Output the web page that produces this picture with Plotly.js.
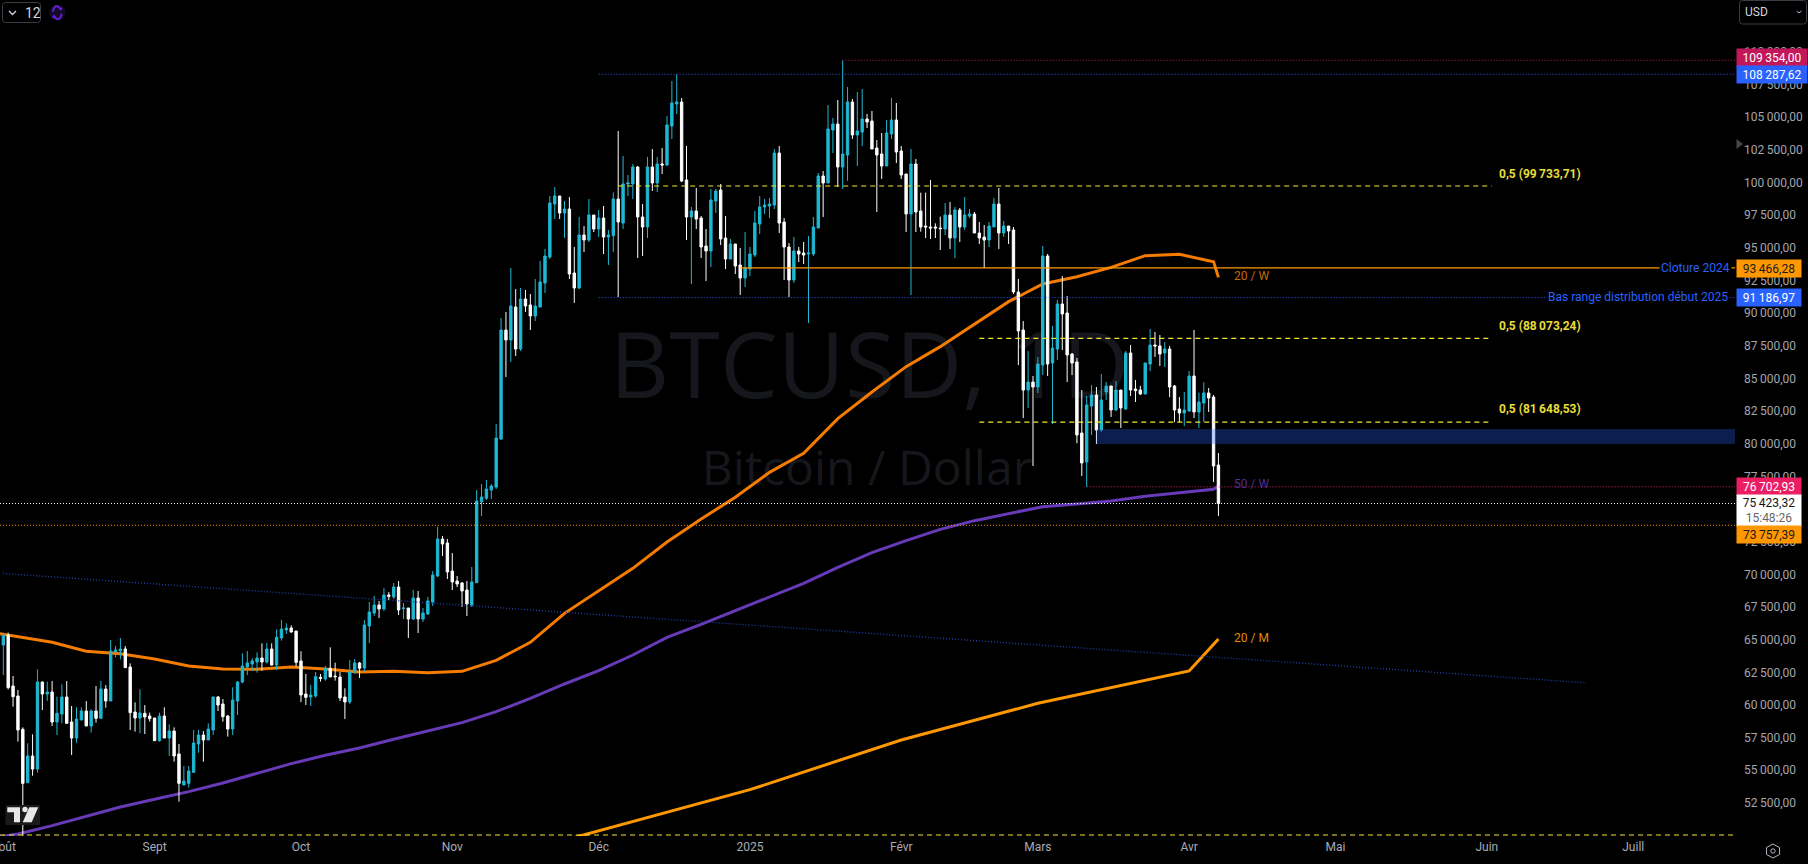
<!DOCTYPE html>
<html><head><meta charset="utf-8">
<script src="https://cdn.plot.ly/plotly-3.0.1.min.js"></script>
<style>html,body{margin:0;padding:0;background:#000;overflow:hidden}#c{width:1808px;height:864px}</style>
</head><body><div id="c"></div>
<script>
const dates=[
"2024-08-01","2024-08-02","2024-08-03","2024-08-04","2024-08-05","2024-08-06","2024-08-07","2024-08-08","2024-08-09","2024-08-10","2024-08-11","2024-08-12","2024-08-13","2024-08-14","2024-08-15","2024-08-16","2024-08-17","2024-08-18","2024-08-19","2024-08-20","2024-08-21","2024-08-22","2024-08-23","2024-08-24","2024-08-25","2024-08-26","2024-08-27","2024-08-28","2024-08-29","2024-08-30","2024-08-31",
"2024-09-01","2024-09-02","2024-09-03","2024-09-04","2024-09-05","2024-09-06","2024-09-07","2024-09-08","2024-09-09","2024-09-10","2024-09-11","2024-09-12","2024-09-13","2024-09-14","2024-09-15","2024-09-16","2024-09-17","2024-09-18","2024-09-19","2024-09-20","2024-09-21","2024-09-22","2024-09-23","2024-09-24","2024-09-25","2024-09-26","2024-09-27","2024-09-28","2024-09-29","2024-09-30",
"2024-10-01","2024-10-02","2024-10-03","2024-10-04","2024-10-05","2024-10-06","2024-10-07","2024-10-08","2024-10-09","2024-10-10","2024-10-11","2024-10-12","2024-10-13","2024-10-14","2024-10-15","2024-10-16","2024-10-17","2024-10-18","2024-10-19","2024-10-20","2024-10-21","2024-10-22","2024-10-23","2024-10-24","2024-10-25","2024-10-26","2024-10-27","2024-10-28","2024-10-29","2024-10-30","2024-10-31",
"2024-11-01","2024-11-02","2024-11-03","2024-11-04","2024-11-05","2024-11-06","2024-11-07","2024-11-08","2024-11-09","2024-11-10","2024-11-11","2024-11-12","2024-11-13","2024-11-14","2024-11-15","2024-11-16","2024-11-17","2024-11-18","2024-11-19","2024-11-20","2024-11-21","2024-11-22","2024-11-23","2024-11-24","2024-11-25","2024-11-26","2024-11-27","2024-11-28","2024-11-29","2024-11-30",
"2024-12-01","2024-12-02","2024-12-03","2024-12-04","2024-12-05","2024-12-06","2024-12-07","2024-12-08","2024-12-09","2024-12-10","2024-12-11","2024-12-12","2024-12-13","2024-12-14","2024-12-15","2024-12-16","2024-12-17","2024-12-18","2024-12-19","2024-12-20","2024-12-21","2024-12-22","2024-12-23","2024-12-24","2024-12-25","2024-12-26","2024-12-27","2024-12-28","2024-12-29","2024-12-30","2024-12-31",
"2025-01-01","2025-01-02","2025-01-03","2025-01-04","2025-01-05","2025-01-06","2025-01-07","2025-01-08","2025-01-09","2025-01-10","2025-01-11","2025-01-12","2025-01-13","2025-01-14","2025-01-15","2025-01-16","2025-01-17","2025-01-18","2025-01-19","2025-01-20","2025-01-21","2025-01-22","2025-01-23","2025-01-24","2025-01-25","2025-01-26","2025-01-27","2025-01-28","2025-01-29","2025-01-30","2025-01-31",
"2025-02-01","2025-02-02","2025-02-03","2025-02-04","2025-02-05","2025-02-06","2025-02-07","2025-02-08","2025-02-09","2025-02-10","2025-02-11","2025-02-12","2025-02-13","2025-02-14","2025-02-15","2025-02-16","2025-02-17","2025-02-18","2025-02-19","2025-02-20","2025-02-21","2025-02-22","2025-02-23","2025-02-24","2025-02-25","2025-02-26","2025-02-27","2025-02-28",
"2025-03-01","2025-03-02","2025-03-03","2025-03-04","2025-03-05","2025-03-06","2025-03-07","2025-03-08","2025-03-09","2025-03-10","2025-03-11","2025-03-12","2025-03-13","2025-03-14","2025-03-15","2025-03-16","2025-03-17","2025-03-18","2025-03-19","2025-03-20","2025-03-21","2025-03-22","2025-03-23","2025-03-24","2025-03-25","2025-03-26","2025-03-27","2025-03-28","2025-03-29","2025-03-30","2025-03-31",
"2025-04-01","2025-04-02","2025-04-03","2025-04-04","2025-04-05","2025-04-06","2025-04-07"];

const open=[
64591,65356,61452,60686,58136,54051,56093,55096,61758,60840,60993,58696,59308,60610,58696,57471,58849,59538,58390,59538,58977,61222,60304,64055,64132,64285,62907,59461,59002,59359,59155,
59002,57267,59155,57471,58007,56246,53872,54000,54842,57012,57701,57318,58083,60610,60074,59155,58160,60304,61758,62907,63136,63289,63596,63289,64285,63060,65127,65739,65892,65663,
63367,60840,60611,60687,62116,61989,62805,62218,62142,60611,60228,62448,63214,62831,66046,67042,67654,67348,68420,68267,69032,67373,67424,66582,68190,66582,66965,67884,69874,72707,72401,
70257,69491,69339,68802,67654,69364,75540,75820,76458,76688,80363,88708,87942,90469,87253,91081,90622,89780,90469,92306,94297,98354,98967,97665,97972,93072,91923,95981,95598,97512,
96440,97282,95828,95929,98737,96899,99885,99885,101187,97359,96593,101187,99962,101417,101340,104326,106010,106163,100192,97359,97818,97282,95139,94756,98584,99426,95751,94143,95292,93684,92689,
93378,94450,96823,98124,98201,98278,102258,96976,95062,92536,94756,94603,94526,94526,96517,100498,99962,104020,104479,101187,102106,106163,103637,103867,104862,104709,102642,102182,101264,103713,104785,
102412,100651,97588,101417,97819,96670,96594,96594,96517,96440,97512,95751,97895,96594,97436,97589,96134,95828,95598,96594,98354,96134,96670,96364,91617,88708,84114,84727,
84344,86028,94373,86182,87253,90698,90009,86870,86258,80822,78602,82889,83731,81052,83961,84421,82583,84114,82660,86947,84191,84114,83808,86105,87559,87482,86947,87253,84421,82660,82353,
82507,85186,82430,83119,83885,83578,78372];

const high=[
65535,65535,62218,61146,58288,57063,57752,62728,61796,61784,61835,60636,61580,61835,59921,59819,59819,60304,59666,61452,61835,61529,64974,64514,65127,64514,63187,60202,61197,59996,59410,
59002,59410,59819,58517,58288,57012,55327,55327,58083,58083,58007,58594,60636,60686,60457,59232,61350,61835,63953,64132,63570,64030,64719,64770,64719,65790,66505,66250,66097,65663,
64107,62371,61529,62524,62371,62984,64413,63239,62524,61274,63443,63520,63290,66506,67884,68343,67960,68955,68650,69338,69491,67807,67424,68802,68726,67424,68267,70257,73651,72937,72707,
71635,69874,69415,69491,70563,76458,76918,77224,76917,81511,89627,90086,93454,91847,91923,91770,91464,92612,93990,94909,98967,99656,98967,98584,98890,95062,97359,96670,98737,97512,
97895,98201,96364,99248,103943,102029,100574,101417,101264,98354,101953,102565,101953,102641,105091,107771,108287,106470,102795,98124,99579,97435,96440,99503,99503,99885,97435,95675,95292,94985,96210,
95062,97818,98967,98737,98814,102565,102795,97282,95369,95828,95062,95445,95904,97359,100727,100881,105934,104938,106316,109353,107312,106393,106929,107159,105245,105474,103254,103790,104785,106470,106087,
102795,100651,102565,101800,99222,99222,100192,96874,97385,98431,98507,98125,98048,98890,97972,97742,96976,96747,96976,98814,99579,97053,96670,96594,92612,89397,87100,85186,
86641,95139,94526,89014,91005,92842,91311,86947,86564,84114,83655,84497,84344,85339,84727,84421,84803,84114,87100,87559,84880,84421,86181,88784,88555,88325,87789,87482,84497,83579,83961,
85569,88708,83910,84701,84267,83731,79291];

const low=[
62294,61196,59870,57190,49923,54051,54586,54816,59614,60304,58390,57701,58596,58594,56169,57114,58849,58390,57879,58645,58977,59793,60304,63647,63494,62856,58083,57956,57828,57777,58722,
57267,57190,57471,56093,55659,52596,53872,53668,54842,56346,55659,57318,57701,59538,58722,57573,57701,59232,61656,62294,62601,62473,62626,63187,63009,62677,64923,65433,65535,62932,
60228,59998,59921,60560,61785,61861,62142,61861,60305,58926,60075,62448,62065,62550,64745,66812,66659,67195,68037,68113,66889,66582,65128,66506,65510,66353,66889,67578,69798,71405,69645,
68802,69032,67501,66812,67501,69364,74468,75700,75769,76535,80286,85110,86258,86717,87100,90086,88708,89397,90469,91541,94144,97206,97206,95751,92612,90775,91847,94679,95445,96211,
95828,94526,93684,94679,91234,96440,98967,98737,94220,94373,95751,99350,99273,100651,101264,103331,105245,100038,95598,92229,96440,94220,92459,93531,97665,95215,93378,94143,92995,91387,92000,
92842,94297,96057,97588,97282,97971,96134,92536,91234,92306,93914,93761,89244,94373,96517,97359,99962,102259,99656,99503,100115,103331,101264,102795,104173,102565,97742,100268,101264,103331,101493,
100268,96210,91387,96210,96236,95751,95675,95751,94833,95981,94909,94220,95445,96364,97283,96134,95292,93455,95062,96594,94909,95828,95292,91464,86028,81970,82736,78296,
83885,85263,85186,81511,86411,87177,84727,85263,80031,77530,76688,80669,79980,80924,83349,82047,82507,81205,82583,83655,83196,83731,83808,85569,86641,85952,85875,83579,81664,81664,81358,
82430,81970,81205,81664,82430,77070,74468];

const close=[
65331,61324,60636,58083,54000,56093,55096,61758,60840,60993,58696,59359,60610,58594,57471,58926,59538,58390,59538,58977,61222,60304,64132,64208,64285,62856,59410,59002,59385,59079,58951,
57267,59155,57471,58007,56093,54000,54179,54944,57088,57701,57318,58160,60610,59997,59104,58160,60380,61758,62983,63213,63366,63596,63289,64285,63060,65178,65816,65892,65586,63264,
60764,60585,60764,62167,62040,62805,62142,62167,60534,60228,62524,63214,62805,66123,67118,67654,67348,68420,68318,69032,67271,67424,66582,68190,66582,67042,67960,69951,72707,72324,70181,
69415,69262,68726,67731,69415,75616,75923,76535,76764,80439,88708,87942,90545,87253,91081,90545,89780,90545,92383,94373,98431,98967,97665,97972,92995,91923,95981,95598,97512,96440,
97282,95828,95981,98737,96976,99885,99962,101187,97359,96593,101187,99962,101417,101340,104402,106087,106163,100115,97359,97818,97206,95062,94756,98660,99350,95675,94143,95292,93607,92689,93454,
94526,96899,98124,98278,98354,102258,96899,95062,92536,94756,94526,94450,94603,96593,100498,99962,104096,104479,101187,102182,106163,103637,103943,104862,104632,102565,102106,101264,103790,104785,102335,
100574,97588,101417,97742,96594,96594,96517,96517,96466,97512,95751,97895,96594,97512,97589,96134,95751,95598,96670,98354,96134,96670,96287,91617,88631,84114,84727,84344,
86105,94373,86105,87330,90698,89933,86794,86182,80669,78525,82966,83731,81052,83349,84421,82583,84114,82736,86947,84114,84063,83808,86181,87559,87482,86870,87253,84344,82583,82353,82583,
85186,82430,83196,83885,83502,78296,75423];

const weekDates=["2024-07-28","2024-08-04","2024-08-11","2024-08-18","2024-08-25","2024-09-01","2024-09-08","2024-09-15","2024-09-22","2024-09-29","2024-10-06","2024-10-13","2024-10-20","2024-10-27","2024-11-03","2024-11-10","2024-11-17","2024-11-24","2024-12-01","2024-12-08","2024-12-15","2024-12-22","2024-12-29","2025-01-05","2025-01-12","2025-01-19","2025-01-26","2025-02-02","2025-02-09","2025-02-16","2025-02-23","2025-03-02","2025-03-09","2025-03-16","2025-03-23","2025-03-30","2025-04-06","2025-04-07"];
const ma20w=[65663,65230,64796,64107,63928,63520,62984,62754,62729,62907,62754,62524,62575,62473,62575,63418,64796,67016,68751,70461,72477,74238,75897,77811,79265,81925,83961,85900,87432,89167,90877,92230,92791,93506,94399,94501,93939,92740];
const ma50w=[49714,50122,50760,51449,52189,52776,53363,54026,54741,55507,56145,56706,57370,58033,58645,59488,60508,61606,62626,63826,65178,66173,67220,68291,69312,70537,71660,72579,73447,74110,74672,75182,75386,75616,75974,76254,76509,76765];
const monthDates=["2024-11-01","2024-12-01","2025-01-01","2025-02-01","2025-03-01","2025-04-01","2025-04-07"];
const ma20m=[47314,50351,53515,57318,60125,62602,65052];

const yTickVals=[52500,55000,57500,60000,62500,65000,67500,70000,72500,75000,77500,80000,82500,85000,87500,90000,92500,95000,97500,100000,102500,105000,107500,110000];
const yTickText=["52\u2009500,00","55\u2009000,00","57\u2009500,00","60\u2009000,00","62\u2009500,00","65\u2009000,00","67\u2009500,00","70\u2009000,00","72\u2009500,00","75\u2009000,00","77\u2009500,00","80\u2009000,00","82\u2009500,00","85\u2009000,00","87\u2009500,00","90\u2009000,00","92\u2009500,00","95\u2009000,00","97\u2009500,00","100\u2009000,00","102\u2009500,00","105\u2009000,00","107\u2009500,00","110\u2009000,00"];
const xTickVals=["2024-08-01","2024-09-01","2024-10-01","2024-11-01","2024-12-01","2025-01-01","2025-02-01","2025-03-01","2025-04-01","2025-05-01","2025-06-01","2025-07-01"];
const xTickText=["Août","Sept","Oct","Nov","Déc","2025","Févr","Mars","Avr","Mai","Juin","Juill"];

const xEnd="2025-07-21 20:29", xStart="2024-07-31 07:46";
const yMin=49968, yMax=113973;

const TEAL="#1FB8D3", ORANGE="#FF9800", BLUE="#2962FF", YEL="#F5E52E";
const PW=1735, PH=836;
const fx=x=>x/PW, fy=y=>1-y/PH;

function seg(name,xs,ys,color,dash,width){
  return {type:"scatter",mode:"lines",name,x:xs,y:ys,xaxis:"x2",yaxis:"y2",hoverinfo:"skip",showlegend:false,
    line:{color,width:width||1,dash:dash||"solid"}};
}
const DOT="1px,2px", DASH="5px,4px";
const WM="'Open Sans', sans-serif";

const traces=[
 {type:"scatter",mode:"text",x:["2025-01-25 12:00"],y:[85260],text:["BTCUSD, 1D"],textposition:"middle center",hoverinfo:"skip",showlegend:false,
   textfont:{family:WM,size:92,color:"#15171C"}},
 {type:"scatter",mode:"text",x:["2025-01-25"],y:[77760],text:["Bitcoin / Dollar"],textposition:"middle center",hoverinfo:"skip",showlegend:false,
   textfont:{family:WM,size:48,color:"#15171C"}},
 {type:"scatter",mode:"lines",name:"20 / W",x:weekDates,y:ma20w,hoverinfo:"skip",showlegend:false,line:{color:"#F57C00",width:3}},
 {type:"scatter",mode:"lines",name:"50 / W",x:weekDates,y:ma50w,hoverinfo:"skip",showlegend:false,line:{color:"#673AB7",width:3}},
 {type:"scatter",mode:"lines",name:"20 / M",x:monthDates,y:ma20m,hoverinfo:"skip",showlegend:false,line:{color:"#FF9800",width:3}},
 {type:"candlestick",name:"BTCUSD",x:dates,open,high,low,close,xaxis:"x2",yaxis:"y2",hoverinfo:"skip",showlegend:false,
   width:36000000,whiskerwidth:0,
   increasing:{line:{color:TEAL,width:1},fillcolor:TEAL},
   decreasing:{line:{color:"#FFFFFF",width:1},fillcolor:"#FFFFFF"}},
 seg("High",["2025-01-20",xEnd],[109354,109354],"#C2185B",DOT),
 seg("Top range",["2024-12-01",xEnd],[108287.62,108287.62],BLUE,DOT),
 seg("Bas range",["2024-12-01",xEnd],[91186.97,91186.97],BLUE,DOT),
 seg("Cloture 2024",["2024-12-30",xEnd],[93466.28,93466.28],ORANGE,"solid",1.2),
 seg("fib1",["2024-12-05","2025-06-02"],[99733.71,99733.71],YEL,DASH,1.2),
 seg("fib2",["2025-02-17","2025-06-02"],[88073.24,88073.24],YEL,DASH,1.2),
 seg("fib3",["2025-02-17","2025-06-02"],[81648.53,81648.53],YEL,DASH,1.2),
 seg("fib4",[xStart,xEnd],[50043,50043],YEL,DASH,1.2),
 seg("low",["2025-03-11",xEnd],[76702.93,76702.93],"#E91E63",DOT),
 seg("last",[xStart,xEnd],[75423.32,75423.32],"#FFFFFF",DOT),
 seg("prev",[xStart,xEnd],[73757.39,73757.39],ORANGE,DOT),
 seg("trend",["2024-08-01","2025-06-21"],[70065,61705],"#1E3FA8",DOT,1.4),
 {type:"scatter",mode:"lines",name:"zone",x:["2025-03-13",xEnd,xEnd,"2025-03-13","2025-03-13"],y:[81128,81128,79980,79980,81128],
   xaxis:"x2",yaxis:"y2",fill:"toself",fillcolor:"rgba(41,98,255,0.3)",line:{width:0},hoverinfo:"skip",showlegend:false}
];

const F="Roboto, sans-serif";
function label(text,x,y,color,size,anchor){
  return {text,xref:"paper",yref:"paper",x:fx(x),y:fy(y),xanchor:anchor||"left",yanchor:"middle",showarrow:false,
    font:{family:F,size:size||12,color}};
}
function tag(text,x0,x1,y0,y1,bg,color){
  return {text,xref:"paper",yref:"paper",x:fx(x0),y:fy((y0+y1)/2),xanchor:"left",yanchor:"middle",showarrow:false,
    width:x1-x0,height:y1-y0,bgcolor:bg,borderpad:0,align:"center",valign:"middle",
    font:{family:F,size:12,color}};
}
const annotations=[
 label("<b>0,5 (99\u2009733,71)</b>",1497,174,"#E8DC3A"),
 label("<b>0,5 (88\u2009073,24)</b>",1497,326,"#E8DC3A"),
 label("<b>0,5 (81\u2009648,53)</b>",1497,409,"#E8DC3A"),
 label("20 / W",1232,276,"#C46A00"),
 label("50 / W",1232,484,"#4F2F96"),
 label("20 / M",1232,638,"#E08A00"),
 Object.assign(label("Cloture 2024",1659,267.5,BLUE,12),{bgcolor:"#000"}),
 Object.assign(label("Bas range distribution début 2025",1546,296.5,BLUE,12),{bgcolor:"#000"}),
 tag("109\u2009354,00",1736,1806,49,66,"#C2185B","#FFFFFF"),
 tag("108\u2009287,62",1736,1806,66,83,BLUE,"#FFFFFF"),
 tag("93\u2009466,28",1736,1800,260,277,ORANGE,"#1A1A1A"),
 tag("91\u2009186,97",1736,1800,289,306,BLUE,"#FFFFFF"),
 tag("76\u2009702,93",1736,1800,478,495,"#E91E63","#FFFFFF"),
 tag("75\u2009423,32<br><span style='color:#666'>15:48:26</span>",1736,1800,495,526,"#FFFFFF","#131313"),
 tag("73\u2009757,39",1736,1800,526,543,ORANGE,"#1A1A1A"),
 label("12",23,13,"#D1D4DC",14),
 label("USD",1743,12,"#D1D4DC",12)
];

function poly(pts,close){return pts.map((p,i)=>(i?"L":"M")+fx(p[0])+","+fy(p[1])).join(" ")+(close?" Z":"");}
function pshape(path,fill,lineColor,w){
  return {type:"path",xref:"paper",yref:"paper",path,fillcolor:fill||"rgba(0,0,0,0)",line:{color:lineColor||"rgba(0,0,0,0)",width:w||0}};
}
function circ(cx,cy,r,fill,lineColor,w){
  return {type:"circle",xref:"paper",yref:"paper",x0:fx(cx-r),x1:fx(cx+r),y0:fy(cy-r),y1:fy(cy+r),fillcolor:fill||"rgba(0,0,0,0)",line:{color:lineColor||"rgba(0,0,0,0)",width:w||0}};
}
function rrect(x0,y0,x1,y1,r){
  const P=(x,y)=>fx(x)+","+fy(y);
  return "M"+P(x0+r,y0)+" L"+P(x1-r,y0)+" Q"+P(x1,y0)+" "+P(x1,y0+r)+" L"+P(x1,y1-r)+" Q"+P(x1,y1)+" "+P(x1-r,y1)+" L"+P(x0+r,y1)+" Q"+P(x0,y1)+" "+P(x0,y1-r)+" L"+P(x0,y0+r)+" Q"+P(x0,y0)+" "+P(x0+r,y0)+" Z";
}
function arc(cx,cy,r,a0,a1){
  const pt=a=>[cx+r*Math.cos(a),cy+r*Math.sin(a)];
  const [x0,y0]=pt(a0),[x2,y2]=pt(a1),am=(a0+a1)/2,k=r/Math.cos((a1-a0)/2),xc=cx+k*Math.cos(am),yc=cy+k*Math.sin(am);
  return "M"+fx(x0)+","+fy(y0)+" Q"+fx(xc)+","+fy(yc)+" "+fx(x2)+","+fy(y2);
}
const hex=[[1773,844],[1779.5,847.5],[1779.5,854.5],[1773,858],[1766.5,854.5],[1766.5,847.5]];
const shapes=[
 pshape(rrect(2.5,2.5,40.5,22.5,3),"#000","#3A3D45",1),
 pshape(poly([[9,11],[12.5,14.5],[16,11]]),null,"#D1D4DC",1.3),
 circ(57.3,12.7,8,"#130A2E"),
 pshape(arc(57.3,12.7,4.6,-2.9,-0.6),null,"#6A22E0",1.8),
 pshape(arc(57.3,12.7,4.6,0.25,2.55),null,"#6A22E0",1.8),
 pshape(poly([[60.2,7.2],[62.6,7.8],[61.4,10.4]],true),"#6A22E0"),
 pshape(poly([[54.4,18.2],[52,17.6],[53.2,15]],true),"#6A22E0"),
 pshape(rrect(1739.5,0.5,1806.5,24,3),"#000","#3A3D45",1),
 pshape(poly([[1796.5,11],[1799,13],[1801.5,11]]),null,"#B2B5BE",1),
 pshape(poly([[1736.5,139],[1743,144],[1736.5,149]],true),"#434651"),
 pshape(poly(hex,true),null,"#B2B5BE",1),
 circ(1773,851,2.2,null,"#B2B5BE",1),
 {type:"rect",xref:"paper",yref:"paper",x0:fx(5.5),x1:fx(40),y0:fy(805),y1:fy(825),fillcolor:"#1A1A1A",line:{width:0}},
 pshape(poly([[7.3,807.3],[20,807.3],[20,822.3],[14,822.3],[14,812.3],[7.3,812.3]],true),"#E8E8E8"),
 circ(25,809.5,2.7,"#E8E8E8"),
 pshape(poly([[29.3,807.3],[38.3,807.3],[31.7,822.3],[22.7,822.3]],true),"#E8E8E8")
];

const layout={
 width:1808,height:864,margin:{l:0,r:73,t:0,b:28,pad:0},
 paper_bgcolor:"#000",plot_bgcolor:"#000",showlegend:false,dragmode:false,hovermode:false,
 font:{family:F,color:"#B2B5BE",size:12},
 xaxis:{type:"date",range:[xStart,xEnd],tickmode:"array",tickvals:xTickVals,ticktext:xTickText,showgrid:false,zeroline:false,showline:false,ticks:"",
   tickfont:{family:F,size:12,color:"#A9ACB5"},ticklabelstandoff:2,ticklabeloverflow:"allow",rangeslider:{visible:false},fixedrange:true,tickangle:0},
 yaxis:{range:[yMin,yMax],side:"right",tickmode:"array",tickvals:yTickVals,ticktext:yTickText,showgrid:false,zeroline:false,showline:false,ticks:"",
   tickfont:{family:F,size:12,color:"#A3A6AF"},ticklabelstandoff:8,fixedrange:true,automargin:false},
 xaxis2:{type:"date",range:[xStart,xEnd],overlaying:"x",anchor:"y2",visible:false,rangeslider:{visible:false},fixedrange:true},
 yaxis2:{range:[yMin,yMax],overlaying:"y",anchor:"x2",side:"right",visible:false,fixedrange:true},
 annotations,shapes
};
Plotly.newPlot("c",traces,layout,{displayModeBar:false,responsive:false});
</script></body></html>
